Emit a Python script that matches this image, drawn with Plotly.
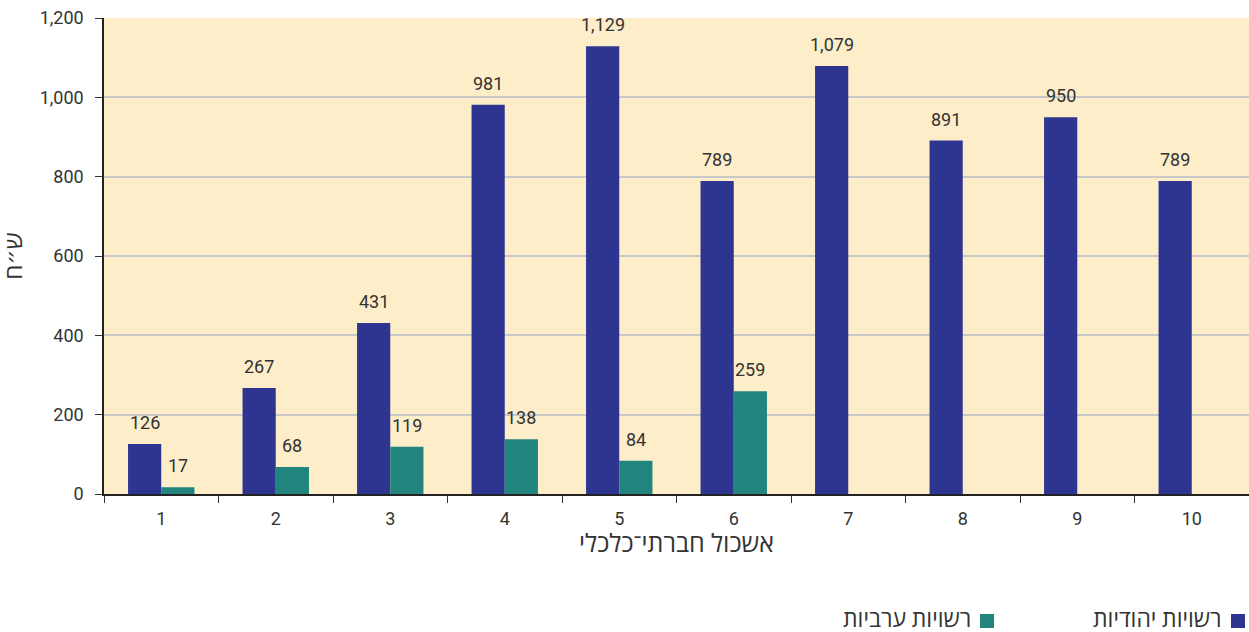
import plotly.graph_objects as go

categories = ["1", "2", "3", "4", "5", "6", "7", "8", "9", "10"]
jewish = [126, 267, 431, 981, 1129, 789, 1079, 891, 950, 789]
arab = [17, 68, 119, 138, 84, 259, None, None, None, None]
series_names = ["רשויות יהודיות", "רשויות ערביות"]
y_ticks = [0, 200, 400, 600, 800, 1000, 1200]

BLUE = "#2E3591"
TEAL = "#21847D"
CREAM = "#FDEDC9"
FONT = "Roboto, 'Open Sans', 'DejaVu Sans', sans-serif"
TXT = "#333333"

fig = go.Figure()
fig.add_trace(go.Bar(x=categories, y=jewish, name=series_names[0], marker_color=BLUE,
                     marker_line_width=0, showlegend=False))
fig.add_trace(go.Bar(x=categories, y=arab, name=series_names[1], marker_color=TEAL,
                     marker_line_width=0, showlegend=False))

annotations = []
for i, v in enumerate(jewish):
    annotations.append(dict(x=i, y=v, xref="x", yref="y", text=f"{v:,}", showarrow=False,
                            xshift=-16.5, yshift=9, yanchor="bottom",
                            font=dict(size=18, color=TXT, family=FONT)))
for i, v in enumerate(arab):
    if v is None:
        continue
    annotations.append(dict(x=i, y=v, xref="x", yref="y", text=f"{v:,}", showarrow=False,
                            xshift=16.5, yshift=9, yanchor="bottom",
                            font=dict(size=18, color=TXT, family=FONT)))

# legend (RTL: square on the right of the text)
legend_items = [(series_names[0], BLUE, 1238), (series_names[1], TEAL, 987)]
shapes = []
for name, col, px in legend_items:
    shapes.append(dict(type="rect", xref="paper", yref="paper",
                       x0=(px - 7 - 104) / 1145, x1=(px + 7 - 104) / 1145,
                       y0=(494 - 628) / 476, y1=(494 - 614) / 476,
                       fillcolor=col, line_width=0))
    annotations.append(dict(x=(px - 14 - 104) / 1145, y=(494 - 619) / 476, xref="paper", yref="paper",
                            text=name, showarrow=False, xanchor="right", yanchor="middle",
                            font=dict(size=23, color=TXT, family=FONT)))

fig.update_layout(
    width=1249, height=632,
    margin=dict(l=104, r=0, t=18, b=138),
    barmode="group", bargap=0.42, bargroupgap=0,
    plot_bgcolor=CREAM, paper_bgcolor="white",
    font=dict(family=FONT, color=TXT, size=18),
    annotations=annotations, shapes=shapes,
    showlegend=False,
)
fig.update_xaxes(
    type="category", tickson="boundaries", ticks="outside", ticklen=7, tickcolor="#333",
    showline=True, linecolor="#222", linewidth=1.5, showgrid=False,
    tickfont=dict(size=18, color=TXT), ticklabelstandoff=8,
    title=dict(text="אשכול חברתי־כלכלי", font=dict(size=25, color=TXT), standoff=6),
)
fig.update_yaxes(
    range=[0, 1200], tickvals=y_ticks, tickformat=",d", ticks="outside", ticklen=7, tickcolor="#333",
    showline=True, linecolor="#222", linewidth=1.5,
    showgrid=True, gridcolor="#C8C8C8", gridwidth=1.5, zeroline=False,
    tickfont=dict(size=18, color=TXT), ticklabelstandoff=8,
    title=dict(text="ש״ח", font=dict(size=24, color=TXT), standoff=14),
)

fig.write_html("out.html", config={"displayModeBar": False},
               post_script="document.body.style.margin='0px';document.body.style.overflow='hidden';")
